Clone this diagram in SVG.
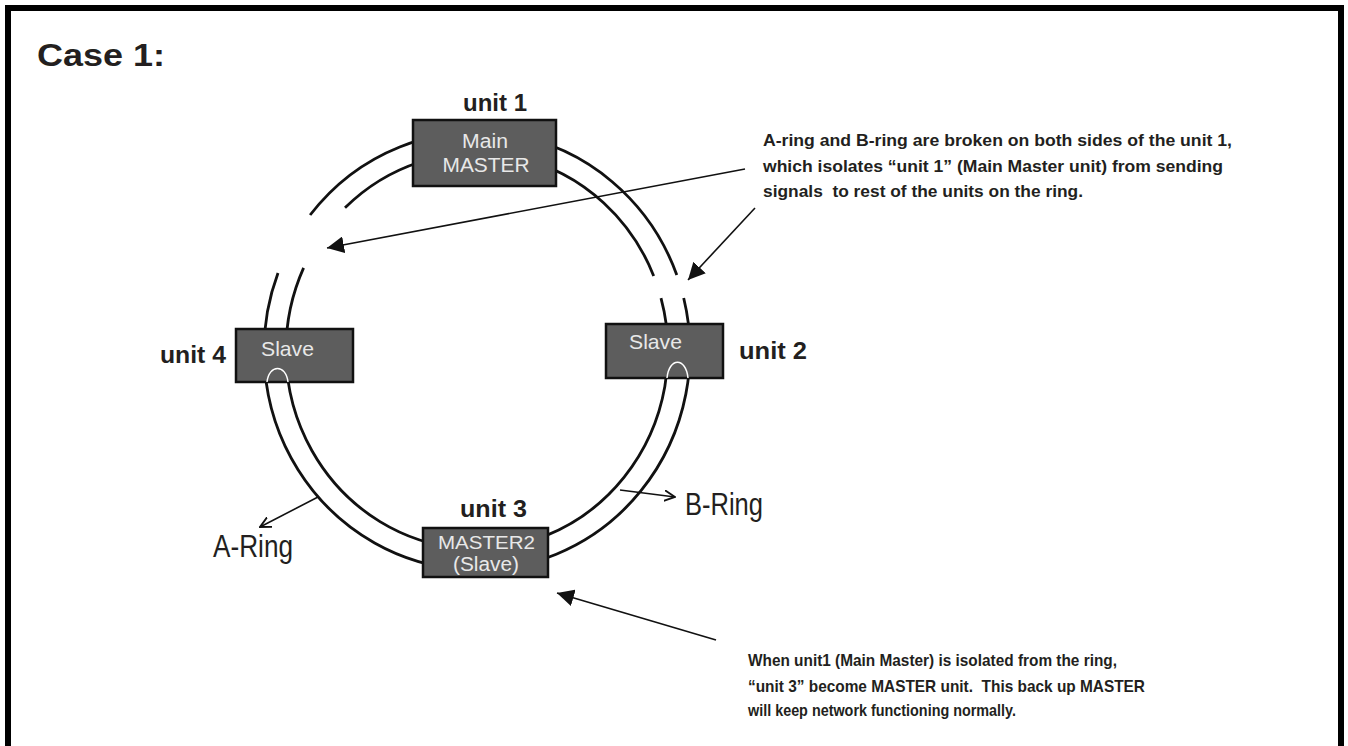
<svg xmlns="http://www.w3.org/2000/svg" width="1348" height="746" viewBox="0 0 1348 746">
<style>
.t{font-family:"Liberation Sans",Arial,sans-serif;fill:#231f20}
.b{font-weight:bold}
.box{fill:#5d5d5d;stroke:#111;stroke-width:2.5}
.bt{font-family:"Liberation Sans",Arial,sans-serif;fill:#e8e8e8;text-anchor:middle}
.ring{fill:none;stroke:#111;stroke-width:2.8}
.ar{fill:none;stroke:#111;stroke-width:1.6}
.loop{fill:none;stroke:#fff;stroke-width:1.5}
</style>
<defs>
<marker id="tri" viewBox="0 0 10 10" refX="10" refY="5" markerWidth="17" markerHeight="17" markerUnits="userSpaceOnUse" orient="auto">
<path d="M0 0 L10 5 L0 10 Z" fill="#111"/>
</marker>
<marker id="vee" viewBox="0 0 10 10" refX="9" refY="5" markerWidth="12" markerHeight="12" markerUnits="userSpaceOnUse" orient="auto">
<path d="M0 0.5 L9 5 L0 9.5" fill="none" stroke="#111" stroke-width="1.6"/>
</marker>
</defs>
<rect width="1348" height="746" fill="#fff"/>
<path d="M8 746 V8 H1341 V746" fill="none" stroke="#000" stroke-width="6"/>
<text class="t b" x="37" y="66" font-size="32" textLength="128" lengthAdjust="spacingAndGlyphs">Case 1:</text>

<g id="rings">
<path class="ring" d="M278.0 272.9 A213 219 0 1 0 683.7 298.0"/>
<path class="ring" d="M676.8 275.0 A213 219 0 0 0 310.1 215.0"/>
<path class="ring" d="M303.6 267.9 A191 198 0 1 0 661.0 298.1"/>
<path class="ring" d="M653.7 275.9 A191 198 0 0 0 345.0 207.8"/>
</g>

<g id="connectors">
<line class="ar" x1="745" y1="169" x2="327" y2="248" marker-end="url(#tri)"/>
<line class="ar" x1="755" y1="208" x2="688" y2="280" marker-end="url(#tri)"/>
<line class="ar" x1="716" y1="640" x2="557" y2="593" marker-end="url(#tri)"/>
<line class="ar" x1="318" y1="497" x2="260" y2="527" marker-end="url(#vee)"/>
<line class="ar" x1="620" y1="490" x2="675" y2="497" marker-end="url(#vee)"/>
</g>

<g id="unit1">
<rect class="box" x="413" y="120" width="143" height="66"/>
<text class="bt" x="485" y="148" font-size="20" textLength="46" lengthAdjust="spacingAndGlyphs">Main</text>
<text class="bt" x="486" y="172" font-size="21" textLength="87" lengthAdjust="spacingAndGlyphs">MASTER</text>
<text class="t b" x="463" y="111" font-size="23" textLength="64" lengthAdjust="spacingAndGlyphs">unit 1</text>
</g>

<g id="unit4">
<rect class="box" x="236" y="329" width="117" height="53"/>
<text class="bt" x="287.5" y="356" font-size="21" textLength="53" lengthAdjust="spacingAndGlyphs">Slave</text>
<path class="loop" d="M267 382 C269 364, 286 364, 288 382"/>
<text class="t b" x="160" y="363" font-size="23" textLength="66" lengthAdjust="spacingAndGlyphs">unit 4</text>
</g>

<g id="unit2">
<rect class="box" x="606" y="324" width="117" height="54"/>
<text class="bt" x="655.5" y="349" font-size="21" textLength="53" lengthAdjust="spacingAndGlyphs">Slave</text>
<path class="loop" d="M667 378 C669 357, 686 357, 688 378"/>
<text class="t b" x="739" y="359" font-size="23" textLength="68" lengthAdjust="spacingAndGlyphs">unit 2</text>
</g>

<g id="unit3">
<rect class="box" x="423" y="528" width="125" height="49"/>
<text class="bt" x="486.5" y="549" font-size="19" textLength="97" lengthAdjust="spacingAndGlyphs">MASTER2</text>
<text class="bt" x="486" y="571" font-size="20" textLength="66" lengthAdjust="spacingAndGlyphs">(Slave)</text>
<text class="t b" x="460" y="517" font-size="23" textLength="67" lengthAdjust="spacingAndGlyphs">unit 3</text>
</g>

<g id="labels">
<text class="t" x="213" y="557" font-size="31" textLength="80" lengthAdjust="spacingAndGlyphs">A-Ring</text>
<text class="t" x="685" y="515" font-size="31" textLength="78" lengthAdjust="spacingAndGlyphs">B-Ring</text>
</g>

<g id="note1">
<text class="t b" x="763" y="146" font-size="17" textLength="469" lengthAdjust="spacingAndGlyphs">A-ring and B-ring are broken on both sides of the unit 1,</text>
<text class="t b" x="763" y="172" font-size="17" textLength="460" lengthAdjust="spacingAndGlyphs">which isolates “unit 1” (Main Master unit) from sending</text>
<text class="t b" x="763" y="197" font-size="17" textLength="320" lengthAdjust="spacingAndGlyphs" xml:space="preserve">signals  to rest of the units on the ring.</text>
</g>

<g id="note2">
<text class="t b" x="748" y="666" font-size="17" textLength="369" lengthAdjust="spacingAndGlyphs">When unit1 (Main Master) is isolated from the ring,</text>
<text class="t b" x="748" y="692" font-size="17" textLength="397" lengthAdjust="spacingAndGlyphs" xml:space="preserve">“unit 3” become MASTER unit.  This back up MASTER</text>
<text class="t b" x="748" y="716" font-size="17" textLength="268" lengthAdjust="spacingAndGlyphs">will keep network functioning normally.</text>
</g>
</svg>
